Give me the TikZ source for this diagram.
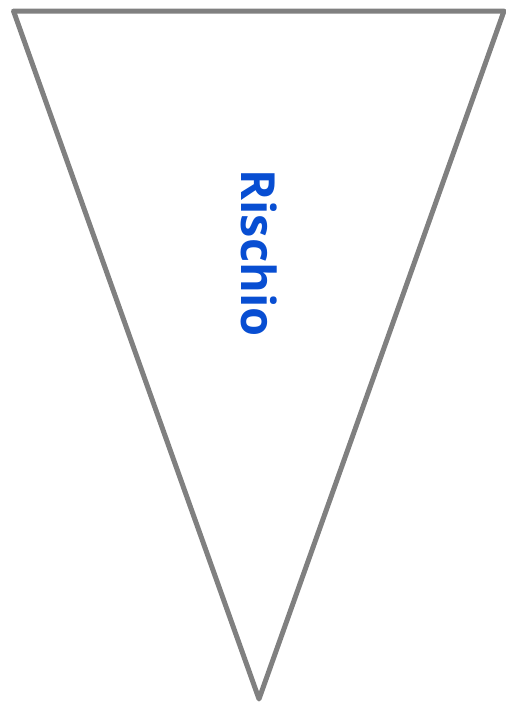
\documentclass[tikz,border=0pt]{standalone}
\usepackage{fontspec}
\setmainfont{Open Sans}
\definecolor{risk blue}{RGB}{8,78,210}
\definecolor{edge gray}{RGB}{128,128,128}

\begin{document}
\begin{tikzpicture}[x=1pt, y=-1pt]
        \useasboundingbox (0,0) rectangle (506,702);
        % ==== TRIANGLE ====
        \coordinate (topleft) at (13.5,11);
        \coordinate (topright) at (504,11);
        \coordinate (apex) at (259,699);
        \draw[line width=5pt, edge gray, line join=round] (topleft) -- (topright) -- (apex) -- cycle;
        % ==== LABEL ====
        \node[rotate=-90, text=risk blue, font=\fontsize{47}{56}\selectfont\bfseries, inner sep=0pt] (label) at (259,253) {Rischio};
\end{tikzpicture}
\end{document}
